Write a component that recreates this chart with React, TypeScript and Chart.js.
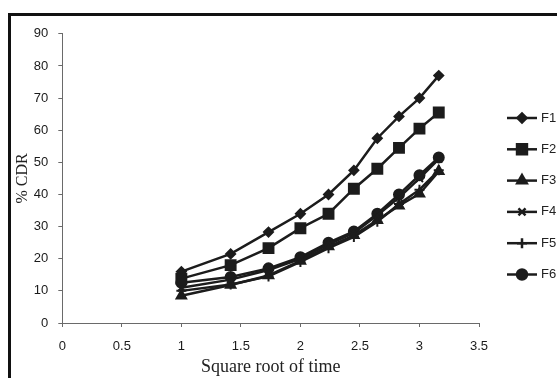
import React, { useEffect, useRef } from "react";
import { Chart, registerables } from "chart.js";
import { drawPoint } from "chart.js/helpers";

Chart.register(...registerables);

// square root of time (h^0.5)
const sqrtTime = [1, 1.414, 1.732, 2, 2.236, 2.449, 2.646, 2.828, 3, 3.162];

const seriesNames = ["F1", "F2", "F3", "F4", "F5", "F6"];
const f1 = [16, 21.5, 28.3, 34, 40, 47.5, 57.5, 64.3, 70, 77];
const f2 = [13.8, 18, 23.3, 29.5, 34, 41.8, 48, 54.5, 60.5, 65.5];
const f3 = [8.5, 11.8, 14.8, 19.3, 23.8, 27.3, 32, 36.5, 40.2, 47.2];
const f4 = [11, 13.5, 16.5, 20, 24.5, 28, 33.5, 39, 45, 51];
const f5 = [10, 12, 14.5, 19, 23.3, 26.8, 31.5, 37, 41.5, 47.5];
const f6 = [12.5, 14.3, 17, 20.5, 25, 28.5, 34, 40, 46, 51.5];
const seriesValues = [f1, f2, f3, f4, f5, f6];
const pointStyles = ["rectRot", "rect", "triangle", "crossRot", "cross", "circle"];
const pointRadii = [4.5, 7, 5.5, 5, 5, 5];

const xTicks = { min: 0, max: 3.5, step: 0.5 };
const yTicks = { min: 0, max: 90, step: 10 };

const INK = "#1c1c1c";
const AXIS = "#6a6a6a";
const TICK_FONT = { family: "'Liberation Sans', Arial, sans-serif", size: 13 };

const legendPlugin = {
  id: "excelLegend",
  afterDraw(chart: any) {
    const ctx = chart.ctx;
    const right = chart.chartArea.right;
    const top = 102;
    const gap = 31.3;
    chart.data.datasets.forEach((ds: any, i: number) => {
      const y = top + i * gap;
      const x0 = right + 28;
      const x1 = right + 58;
      ctx.save();
      ctx.strokeStyle = INK;
      ctx.fillStyle = INK;
      ctx.lineWidth = 2.5;
      ctx.beginPath();
      ctx.moveTo(x0, y);
      ctx.lineTo(x1, y);
      ctx.stroke();
      drawPoint(
        ctx,
        { pointStyle: ds.pointStyle, radius: ds.pointRadius, rotation: 0, borderWidth: 2 },
        (x0 + x1) / 2,
        y
      );
      ctx.fillStyle = "#222";
      ctx.font = "13px 'Liberation Sans', Arial, sans-serif";
      ctx.textAlign = "left";
      ctx.textBaseline = "middle";
      ctx.fillText(ds.label, x1 + 4, y);
      ctx.restore();
    });
  },
};

export default function App() {
  const ref = useRef<HTMLCanvasElement>(null);
  useEffect(() => {
    if (!ref.current) return;
    const datasets = seriesNames.map((name, i) => ({
      label: name,
      data: sqrtTime.map((x, j) => ({ x, y: seriesValues[i][j] })),
      borderColor: INK,
      backgroundColor: INK,
      borderWidth: 2.5,
      pointStyle: pointStyles[i],
      pointRadius: pointRadii[i],
      pointBorderWidth: 2,
      pointBackgroundColor: INK,
      pointBorderColor: INK,
      tension: 0,
    }));
    const chart = new Chart(ref.current, {
      type: "line",
      data: { datasets },
      plugins: [legendPlugin],
      options: {
        responsive: false,
        animation: false,
        layout: { padding: { left: 0, top: 13, right: 78, bottom: 0 } },
        plugins: { legend: { display: false }, tooltip: { enabled: false } },
        scales: {
          x: {
            type: "linear",
            min: xTicks.min,
            max: xTicks.max,
            afterFit: (s: any) => {
              s.height = 55;
            },
            ticks: {
              stepSize: xTicks.step,
              padding: 12,
              color: "#1a1a1a",
              font: TICK_FONT,
              callback: (v: any) => String(Math.round(Number(v) * 10) / 10),
            },
            grid: { drawOnChartArea: false, drawTicks: true, tickLength: 4, color: AXIS },
            border: { display: true, color: AXIS, width: 1 },
            title: {
              display: true,
              text: "Square root of time",
              color: "#222",
              padding: { top: 0, bottom: 0 },
              font: { family: "'Liberation Serif', 'Times New Roman', serif", size: 18 },
            },
          },
          y: {
            type: "linear",
            min: yTicks.min,
            max: yTicks.max,
            afterFit: (s: any) => {
              s.width = 51.3;
            },
            ticks: {
              stepSize: yTicks.step,
              padding: 10,
              color: "#1a1a1a",
              font: TICK_FONT,
            },
            grid: { drawOnChartArea: false, drawTicks: true, tickLength: 4, color: AXIS },
            border: { display: true, color: AXIS, width: 1 },
            title: {
              display: true,
              text: "% CDR",
              color: "#222",
              padding: { top: 2, bottom: 0 },
              font: { family: "'Liberation Serif', 'Times New Roman', serif", size: 16 },
            },
          },
        },
      },
    });
    return () => chart.destroy();
  }, []);

  return (
    <div
      style={{
        position: "fixed",
        left: 0,
        top: 0,
        width: 557,
        height: 378,
        overflow: "hidden",
        background: "#fff",
      }}
    >
      <div
        style={{
          position: "absolute",
          left: 8,
          top: 13,
          width: 620,
          height: 430,
          border: "3px solid #111",
          boxSizing: "border-box",
        }}
      >
        <canvas
          ref={ref}
          width={546}
          height={362}
          style={{ position: "absolute", left: 0, top: 0, width: 546, height: 362 }}
        />
      </div>
    </div>
  );
}
